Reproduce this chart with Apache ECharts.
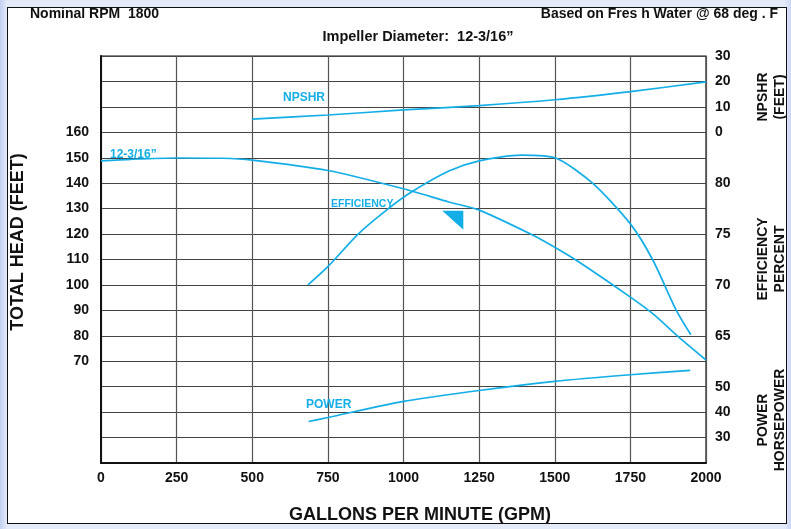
<!DOCTYPE html>
<html>
<head>
<meta charset="utf-8">
<script src="https://cdn.jsdelivr.net/npm/echarts@6/dist/echarts.min.js"></script>
<style>
html,body{margin:0;padding:0;width:791px;height:529px;overflow:hidden;
  background:linear-gradient(to right,#c3cff1 0px,#e4eafa 7px,#e4eafa 784px,#ccd6f3 791px);}
#frame{position:absolute;left:7px;top:7px;width:778px;height:515px;border:1px solid #111;background:#fff;}
#pump{position:absolute;left:0;top:0;width:791px;height:529px;}
</style>
</head>
<body>
<div id="frame"></div>
<div id="pump"></div>
<script>
// head curve 12-3/16"
var headGpm = [0, 100, 250, 400, 500, 750, 1000, 1150, 1250, 1420, 1500, 1580, 1750, 1825, 1910, 2000];
var headFeet = [148.8, 149.4, 149.9, 149.8, 149.1, 145, 137.8, 132.6, 129.4, 120, 114.8, 109, 95.2, 88.6, 79.5, 70.5];
// efficiency
var effGpm = [684, 750, 850, 950, 1030, 1150, 1250, 1390, 1505, 1625, 1750, 1825, 1900, 1950];
var effPct = [70, 71.8, 75, 77.5, 79.2, 81.2, 82.2, 82.75, 82.45, 80, 76, 72.4, 67.6, 65.1];
// npshr
var npshGpm = [500, 750, 1000, 1250, 1500, 1750, 2000];
var npshFeet = [5.2, 6.8, 8.8, 10.5, 12.8, 16, 19.8];
// power
var powGpm = [686, 750, 1000, 1250, 1500, 1750, 1948];
var powHp = [36.3, 37.9, 44.2, 48.5, 52.1, 54.7, 56.4];

var gpmTicks = [0, 250, 500, 750, 1000, 1250, 1500, 1750, 2000];

var cyan = '#13aee8';
var lblFont = {color:'#111', fontSize:14, fontWeight:'bold', fontFamily:'Liberation Sans, Arial, sans-serif'};

var zip = function(xs, ys){
  var out = [];
  for(var i=0;i<xs.length;i++){ out.push([xs[i], ys[i]]); }
  return out;
};

// right side axes share the same spot, each shows only its own labels
var rightAxis = function(min, max, interval, lo, hi, step){
  return {
    type:'value', position:'right', min:min, max:max, interval:interval,
    axisLine:{show:false}, axisTick:{show:false}, splitLine:{show:false},
    axisLabel:Object.assign({margin:9, formatter:function(v){
      var r = Math.round(v*10)/10;
      if(r < lo || r > hi) return '';
      if(Math.abs(r/step - Math.round(r/step)) > 0.001) return '';
      return String(r);
    }}, lblFont)
  };
};

var txt = function(x, y, s, opt){
  var st = Object.assign({text:s, fill:'#111', font:'bold 14px "Liberation Sans", Arial, sans-serif',
    textAlign:'left', textVerticalAlign:'middle'}, opt || {});
  return {type:'text', x:x, y:y, rotation:st.rot || 0, style:st, z:10};
};

var curve = function(name, axis, data){
  return {name:name, type:'line', yAxisIndex:axis, data:data,
    smooth:0.25, symbol:'none', lineStyle:{color:cyan, width:1.7}};
};

var myChart = echarts.init(document.getElementById('pump'), null, {renderer:'canvas'});
var headSeries = curve('head', 0, zip(headGpm, headFeet));
//流量扬程曲线上的小三角
headSeries.markPoint = {
  symbol:'path://M0,0 L21,0 L21,19 Z', symbolSize:[21,19], symbolKeepAspect:false,
  itemStyle:{color:cyan}, label:{show:false},
  data:[{coord:[1163, 125.4]}]
};
var option = {
  backgroundColor:'transparent',
  animation:false,
  grid:{left:101, top:56, width:605, height:407, show:true, borderColor:'#111', borderWidth:1.2, backgroundColor:'transparent'},
  xAxis:{
    type:'value', min:0, max:2000, interval:250,
    axisLine:{show:true, onZero:false, lineStyle:{color:'#111', width:2}},
    axisTick:{show:false},
    splitLine:{show:true, lineStyle:{color:'#555', width:1.2}},
    axisLabel:Object.assign({margin:8, formatter:function(v){ return gpmTicks.indexOf(v) >= 0 ? String(v) : ''; }}, lblFont)
  },
  yAxis:[
    {
      type:'value', position:'left', min:30, max:190, interval:10,
      axisLine:{show:true, onZero:false, lineStyle:{color:'#111', width:2}},
      axisTick:{show:false},
      splitLine:{show:true, lineStyle:{color:'#444', width:1.2}},
      axisLabel:Object.assign({margin:12, formatter:function(v){
        var r = Math.round(v);
        return (r >= 70 && r <= 160) ? String(r) : '';
      }}, lblFont)
    },
    rightAxis(-130, 30, 10, 0, 30, 10),
    rightAxis(52.5, 92.5, 2.5, 65, 80, 5),
    rightAxis(20, 180, 10, 30, 50, 10)
  ],
  series:[
    headSeries,
    curve('npshr', 1, zip(npshGpm, npshFeet)),
    curve('efficiency', 2, zip(effGpm, effPct)),
    curve('power', 3, zip(powGpm, powHp))
  ],
  graphic:[
    txt(30, 14, 'Nominal RPM  1800'),
    txt(778, 14, 'Based on Fres h Water @ 68 deg . F', {textAlign:'right'}),
    txt(418, 37, 'Impeller Diameter:  12-3/16\u201D', {textAlign:'center', font:'bold 14.5px "Liberation Sans", Arial, sans-serif'}),
    txt(420, 515, 'GALLONS PER MINUTE (GPM)', {textAlign:'center', font:'bold 18px "Liberation Sans", Arial, sans-serif'}),
    txt(18, 242, 'TOTAL HEAD (FEET)', {textAlign:'center', rot:Math.PI/2, font:'bold 18px "Liberation Sans", Arial, sans-serif'}),
    txt(772, 97, 'NPSHR\n(FEET)', {textAlign:'center', rot:Math.PI/2, lineHeight:17, font:'bold 14px "Liberation Sans", Arial, sans-serif'}),
    txt(772, 259, 'EFFICIENCY\nPERCENT', {textAlign:'center', rot:Math.PI/2, lineHeight:17, font:'bold 14px "Liberation Sans", Arial, sans-serif'}),
    txt(772, 420, 'POWER\nHORSEPOWER', {textAlign:'center', rot:Math.PI/2, lineHeight:17, font:'bold 14px "Liberation Sans", Arial, sans-serif'}),
    // curve names
    txt(110, 155, '12-3/16\u201D', {fill:cyan, font:'bold 12px "Liberation Sans", Arial, sans-serif'}),
    txt(283, 98, 'NPSHR', {fill:cyan, font:'bold 12px "Liberation Sans", Arial, sans-serif'}),
    txt(331, 204, 'EFFICIENCY', {fill:cyan, font:'bold 10.5px "Liberation Sans", Arial, sans-serif'}),
    txt(306, 405, 'POWER', {fill:cyan, font:'bold 12px "Liberation Sans", Arial, sans-serif'})
  ]
};
myChart.setOption(option);
</script>
</body>
</html>
